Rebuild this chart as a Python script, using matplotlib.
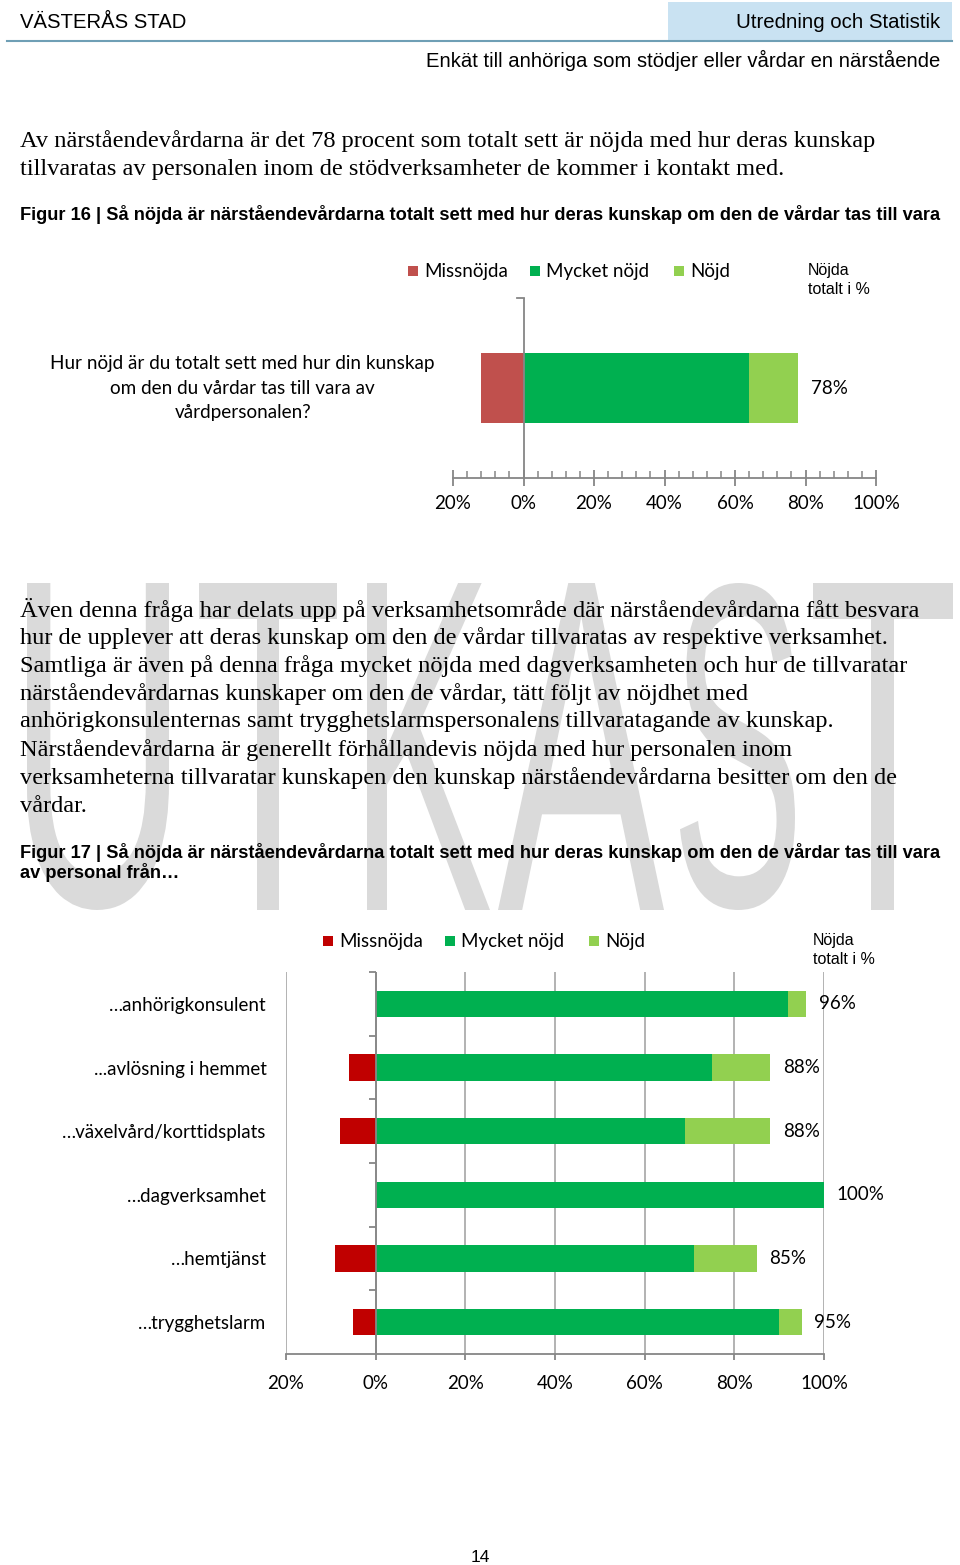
import matplotlib
matplotlib.use('Agg')
import matplotlib.pyplot as plt
from matplotlib.patches import Rectangle, PathPatch
from matplotlib.textpath import TextPath
from matplotlib.font_manager import FontProperties
from matplotlib.transforms import Affine2D
from matplotlib.ticker import MultipleLocator, FuncFormatter

# --- data ---
serier = ['Missnöjda', 'Mycket nöjd', 'Nöjd']

fraga16 = ['Hur nöjd är du totalt sett med hur din kunskap\nom den du vårdar tas till vara av\nvårdpersonalen?']
missnojda16 = [12]
mycket16 = [64]
nojd16 = [14]
totalt16 = [78]

kategorier17 = ['…anhörigkonsulent', '...avlösning i hemmet', '…växelvård/korttidsplats',
                '…dagverksamhet', '…hemtjänst', '…trygghetslarm']
missnojda17 = [0, 6, 8, 0, 9, 5]
mycket17 = [92, 75, 69, 100, 71, 90]
nojd17 = [4, 13, 19, 0, 14, 5]
totalt17 = [96, 88, 88, 100, 85, 95]

xticks = [-20, 0, 20, 40, 60, 80, 100]

text1 = ['Av närståendevårdarna är det 78 procent som totalt sett är nöjda med hur deras kunskap',
         'tillvaratas av personalen inom de stödverksamheter de kommer i kontakt med.']
text2 = ['Även denna fråga har delats upp på verksamhetsområde där närståendevårdarna fått besvara',
         'hur de upplever att deras kunskap om den de vårdar tillvaratas av respektive verksamhet.',
         'Samtliga är även på denna fråga mycket nöjda med dagverksamheten och hur de tillvaratar',
         'närståendevårdarnas kunskaper om den de vårdar, tätt följt av nöjdhet med',
         'anhörigkonsulenternas samt trygghetslarmspersonalens tillvaratagande av kunskap.',
         'Närståendevårdarna är generellt förhållandevis nöjda med hur personalen inom',
         'verksamheterna tillvaratar kunskapen den kunskap närståendevårdarna besitter om den de',
         'vårdar.']
figur16 = 'Figur 16 | Så nöjda är närståendevårdarna totalt sett med hur deras kunskap om den de vårdar tas till vara'
figur17 = ['Figur 17 | Så nöjda är närståendevårdarna totalt sett med hur deras kunskap om den de vårdar tas till vara',
           'av personal från…']

farger16 = ['#C0504D', '#00B050', '#92D050']
farger17 = ['#C00000', '#00B050', '#92D050']

SANS = 'Liberation Sans'
SERIF = 'Liberation Serif'
CHART = 'Lato'
GRA = '#868686'

W, H = 960, 1565
fig = plt.figure(figsize=(W / 100, H / 100), dpi=100)
fig.patch.set_facecolor('white')
rend = fig.canvas.get_renderer()

# page axes in pixel coordinates
sida = fig.add_axes([0, 0, 1, 1])
sida.set_xlim(0, W)
sida.set_ylim(H, 0)
sida.axis('off')


def fit(s, width, **kw):
    t = sida.text(0, 0, s, fontsize=20, **kw)
    w = t.get_window_extent(renderer=rend).width
    t.remove()
    return 20 * width / w


def box(x0, y0, x1, y1):
    return [x0 / W, 1 - y1 / H, (x1 - x0) / W, (y1 - y0) / H]


# watermark UTKAST, letters stretched into boxes
fp = FontProperties(family=SANS)
boxar = [('U', 27, 169), ('T', 199, 337), ('K', 367, 490), ('A', 498, 664), ('S', 680, 795), ('T', 813, 953)]
for ch, x0, x1 in boxar:
    p = TextPath((0, 0), ch, size=1, prop=fp)
    e = p.get_extents()
    sx = (x1 - x0) / e.width
    sy = (910 - 583) / e.height
    tr = Affine2D().translate(-e.x0, -e.y0).scale(sx, -sy).translate(x0, 910)
    sida.add_patch(PathPatch(tr.transform_path(p), facecolor='#dadada', edgecolor='none', zorder=0))

# header
sida.add_patch(Rectangle((668, 2), 284, 38, facecolor='#c9e2f2', edgecolor='none'))
sida.plot([7, 952], [40.5, 40.5], color='#6f9fb5', lw=1.5)
sida.text(20, 22, 'VÄSTERÅS STAD', family=SANS, va='center',
          fontsize=fit('VÄSTERÅS STAD', 166, family=SANS))
sida.text(940, 22, 'Utredning och Statistik', family=SANS, va='center', ha='right',
          fontsize=fit('Utredning och Statistik', 203, family=SANS))
sida.text(940, 60, 'Enkät till anhöriga som stödjer eller vårdar en närstående', family=SANS,
          va='center', ha='right',
          fontsize=fit('Enkät till anhöriga som stödjer eller vårdar en närstående', 513, family=SANS))

# body text
fs_serif = fit(text1[0], 855, family=SERIF)
for i, rad in enumerate(text1):
    sida.text(20, 141 + 28 * i, rad, family=SERIF, fontsize=fs_serif, va='center')
fs_serif2 = fit(text2[0], 897, family=SERIF)
for i, rad in enumerate(text2):
    sida.text(20, 610 + 28 * i, rad, family=SERIF, fontsize=fs_serif2, va='center')

fs_fig = fit(figur16, 920, family=SANS, weight='bold')
sida.text(20, 214, figur16, family=SANS, weight='bold', fontsize=fs_fig, va='center')
sida.text(20, 852, figur17[0], family=SANS, weight='bold', fontsize=fs_fig, va='center')
sida.text(20, 872, figur17[1], family=SANS, weight='bold', fontsize=fs_fig, va='center')

sida.text(480, 1558, '14', family=SANS, fontsize=12.5, ha='center', va='center')


def legend(ytop, xs, farger, nx):
    for namn, x, c in zip(serier, xs, farger):
        sida.add_patch(Rectangle((x, ytop - 5), 10, 10, facecolor=c, edgecolor='none'))
        sida.text(x + 16, ytop, namn, family=CHART, fontsize=13.5, va='center')
    sida.text(nx, ytop - 1, 'Nöjda', family=SANS, fontsize=11.5, va='center')
    sida.text(nx, ytop + 18, 'totalt i %', family=SANS, fontsize=11.5, va='center')


pct = FuncFormatter(lambda v, p: f'{abs(v):.0f}%')

# --- Figur 16 ---
legend(271, [408, 530, 674], farger16, 808)
ax1 = fig.add_axes(box(453, 298, 876, 478))
ax1.patch.set_alpha(0)
y1 = range(len(fraga16))
ax1.barh(y1, [-v for v in missnojda16], height=0.39, color=farger16[0])
ax1.barh(y1, mycket16, height=0.39, color=farger16[1])
ax1.barh(y1, nojd16, left=mycket16, height=0.39, color=farger16[2])
for y, t in zip(y1, totalt16):
    ax1.annotate(f'{t}%', (t, y), xytext=(9, 0), textcoords='offset points',
                 va='center', ha='left', family=CHART, fontsize=13.5)
ax1.set_xlim(-20, 100)
ax1.set_ylim(-0.5, 0.5)
ax1.axvline(0, color=GRA, lw=1.3)
ax1.plot([-1.8, 0], [0.5, 0.5], color=GRA, lw=1.3, clip_on=False)
for s in ['top', 'right', 'left']:
    ax1.spines[s].set_visible(False)
ax1.spines['bottom'].set_color(GRA)
ax1.spines['bottom'].set_linewidth(1.3)
ax1.set_xticks(xticks)
ax1.xaxis.set_minor_locator(MultipleLocator(4))
ax1.xaxis.set_major_formatter(pct)
ax1.tick_params(axis='x', which='major', direction='inout', length=11, width=1.3, color=GRA,
                pad=7, labelsize=13.5)
ax1.tick_params(axis='x', which='minor', direction='in', length=5, width=1.1, color=GRA)
for lab in ax1.get_xticklabels():
    lab.set_family(CHART)
ax1.set_yticks([])
# category label, three centred lines to the left of the axis
for y, namn in zip(y1, fraga16):
    ax1.annotate(namn, (0, y), xycoords=('axes fraction', 'data'), xytext=(-13, 0),
                 textcoords='offset points', ha='right', va='center', multialignment='center',
                 family=CHART, fontsize=13.6, linespacing=1.52)

# --- Figur 17 ---
legend(941, [323, 445, 589], farger17, 813)
ax2 = fig.add_axes(box(286, 972, 824, 1354))
ax2.patch.set_alpha(0)
y2 = range(len(kategorier17))
ax2.barh(y2, [-v for v in missnojda17], height=0.41, color=farger17[0], zorder=3)
ax2.barh(y2, mycket17, height=0.41, color=farger17[1], zorder=3)
ax2.barh(y2, nojd17, left=mycket17, height=0.41, color=farger17[2], zorder=3)
for y, t in zip(y2, totalt17):
    ax2.annotate(f'{t}%', (t, y), xytext=(9, 0), textcoords='offset points',
                 va='center', ha='left', family=CHART, fontsize=13.5, zorder=4)
ax2.set_xlim(-20, 100)
ax2.set_ylim(len(kategorier17) - 0.5, -0.5)
ax2.set_xticks(xticks)
ax2.xaxis.set_major_formatter(pct)
ax2.grid(axis='x', color='#a6a6a6', lw=1.2, zorder=0)
ax2.axvline(0, color=GRA, lw=1.3, zorder=4)
ax2.hlines([i - 0.5 for i in y2], -1.4, 0, color=GRA, lw=1.3, clip_on=False)
for s in ['top', 'right', 'left']:
    ax2.spines[s].set_visible(False)
ax2.spines['bottom'].set_color(GRA)
ax2.spines['bottom'].set_linewidth(1.3)
ax2.tick_params(axis='x', direction='out', length=4, width=1.3, color=GRA, pad=11, labelsize=13.5)
for lab in ax2.get_xticklabels():
    lab.set_family(CHART)
ax2.set_yticks(list(y2))
ax2.set_yticklabels(kategorier17, family=CHART, fontsize=13.5)
ax2.tick_params(axis='y', length=0, pad=14)

fig.savefig('out.png', dpi=100, facecolor='white')
